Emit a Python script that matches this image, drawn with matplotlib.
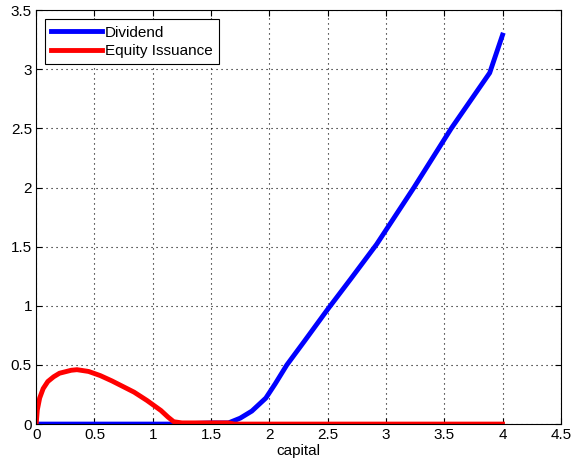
import numpy as np
import matplotlib
matplotlib.use('Agg')
import matplotlib.pyplot as plt

plt.rcParams['font.family'] = ['Liberation Sans', 'DejaVu Sans']

# dividend policy vs capital
cap_div = [0, 1.2, 1.5, 1.65, 1.75, 1.85, 1.97, 2.05, 2.15, 2.3, 2.5, 2.7,
           2.92, 3.0, 3.24, 3.56, 3.89, 4.0]
dividend = [0, 0, 0.01, 0.01, 0.05, 0.11, 0.22, 0.34, 0.5, 0.7, 0.97, 1.23,
            1.52, 1.64, 2.0, 2.5, 2.97, 3.29]

# equity issuance vs capital
cap_eq = [0, 0.01, 0.03, 0.06, 0.1, 0.15, 0.2, 0.3, 0.35, 0.45, 0.55, 0.65, 0.75,
          0.84, 0.95, 1.07, 1.13, 1.18, 1.25, 1.65, 1.7, 4.0]
equity = [0, 0.12, 0.22, 0.3, 0.36, 0.4, 0.43, 0.455, 0.46, 0.445, 0.41, 0.365, 0.315,
          0.27, 0.2, 0.115, 0.06, 0.02, 0.01, 0.01, 0, 0]

fig = plt.figure(figsize=(5.74, 4.65), dpi=100)
ax = fig.add_axes([0.063, 0.088, 0.914, 0.89])
ax.plot(cap_div, dividend, 'b-', lw=3.5, label='Dividend')
ax.plot(cap_eq, equity, 'r-', lw=3.5, label='Equity Issuance')

ax.set_xlim(0, 4.5)
ax.set_ylim(0, 3.5)
ax.set_xticks(np.arange(0, 4.51, 0.5))
ax.set_yticks(np.arange(0, 3.51, 0.5))
ax.set_xticklabels(['0', '0.5', '1', '1.5', '2', '2.5', '3', '3.5', '4', '4.5'])
ax.set_yticklabels(['0', '0.5', '1', '1.5', '2', '2.5', '3', '3.5'])
ax.grid(True, color='k', linestyle=(0, (1, 3.5)), lw=0.8)
ax.tick_params(direction='in', top=True, right=True, length=4, labelsize=11, pad=3)
ax.set_xlabel('capital', fontsize=11, labelpad=1)
for s in ax.spines.values():
    s.set_linewidth(0.8)

leg = ax.legend(loc='upper left', fontsize=11, fancybox=False, edgecolor='k',
                framealpha=1, handlelength=3.3, handletextpad=0.2,
                borderaxespad=0.6, borderpad=0.4, labelspacing=0.3)
leg.get_frame().set_linewidth(0.8)

fig.savefig('out.png', dpi=100)
